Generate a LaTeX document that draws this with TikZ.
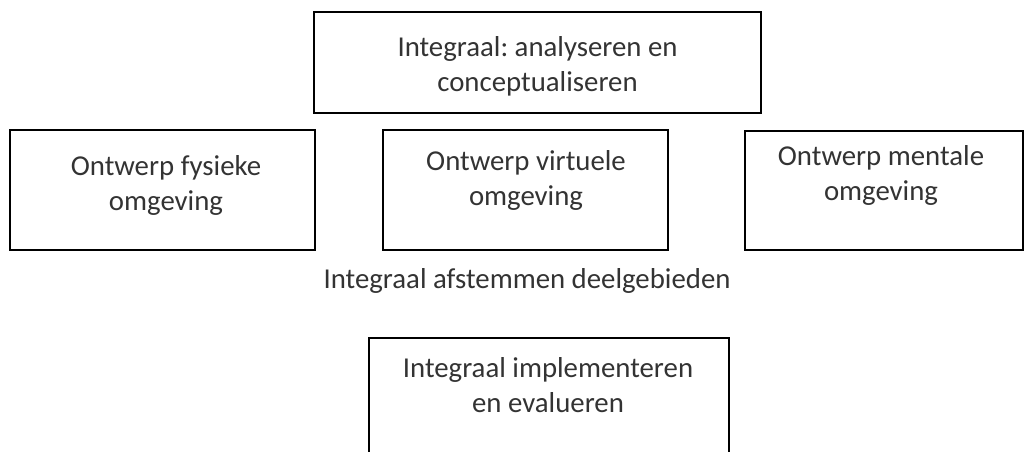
\documentclass[tikz,border=0pt]{standalone}
\usepackage{fontspec}
\setmainfont{Carlito}
\frenchspacing
\begin{document}
\begin{tikzpicture}[x=1pt,y=-1pt,
  box/.style={draw, line width=2pt, rectangle, inner sep=0pt, outer sep=0pt},
  lbl/.style={font=\fontsize{28.8}{35}\selectfont, text=black!80, align=center, inner sep=0pt, anchor=base}]
\useasboundingbox (0,0) rectangle (1025,451);
\clip (0,0) rectangle (1025,451);
% boxes
\node[box, minimum width=447pt, minimum height=101pt] (topbox) at (537.5,62.5) {};
\node[box, minimum width=305pt, minimum height=120pt] (fys) at (162.5,190) {};
\node[box, minimum width=285pt, minimum height=120pt] (virt) at (525.5,190) {};
\node[box, minimum width=278pt, minimum height=119pt] (ment) at (884,190.5) {};
\node[box, minimum width=360pt, minimum height=140pt] (impl) at (549,408) {};
% labels (base anchor = baseline of the last line)
\node[lbl] (topbox-t) at (537.5,91) {Integraal: analyseren en\\conceptualiseren};
\node[lbl] (fys-t) at (166,210) {Ontwerp fysieke\\omgeving};
\node[lbl] (virt-t) at (526,205) {Ontwerp virtuele\\omgeving};
\node[lbl] (ment-t) at (881,200) {Ontwerp mentale\\omgeving};
\node[lbl] (afst) at (527,288) {Integraal afstemmen deelgebieden};
\node[lbl] (impl-t) at (548,412) {Integraal implementeren\\en evalueren};
\end{tikzpicture}
\end{document}
